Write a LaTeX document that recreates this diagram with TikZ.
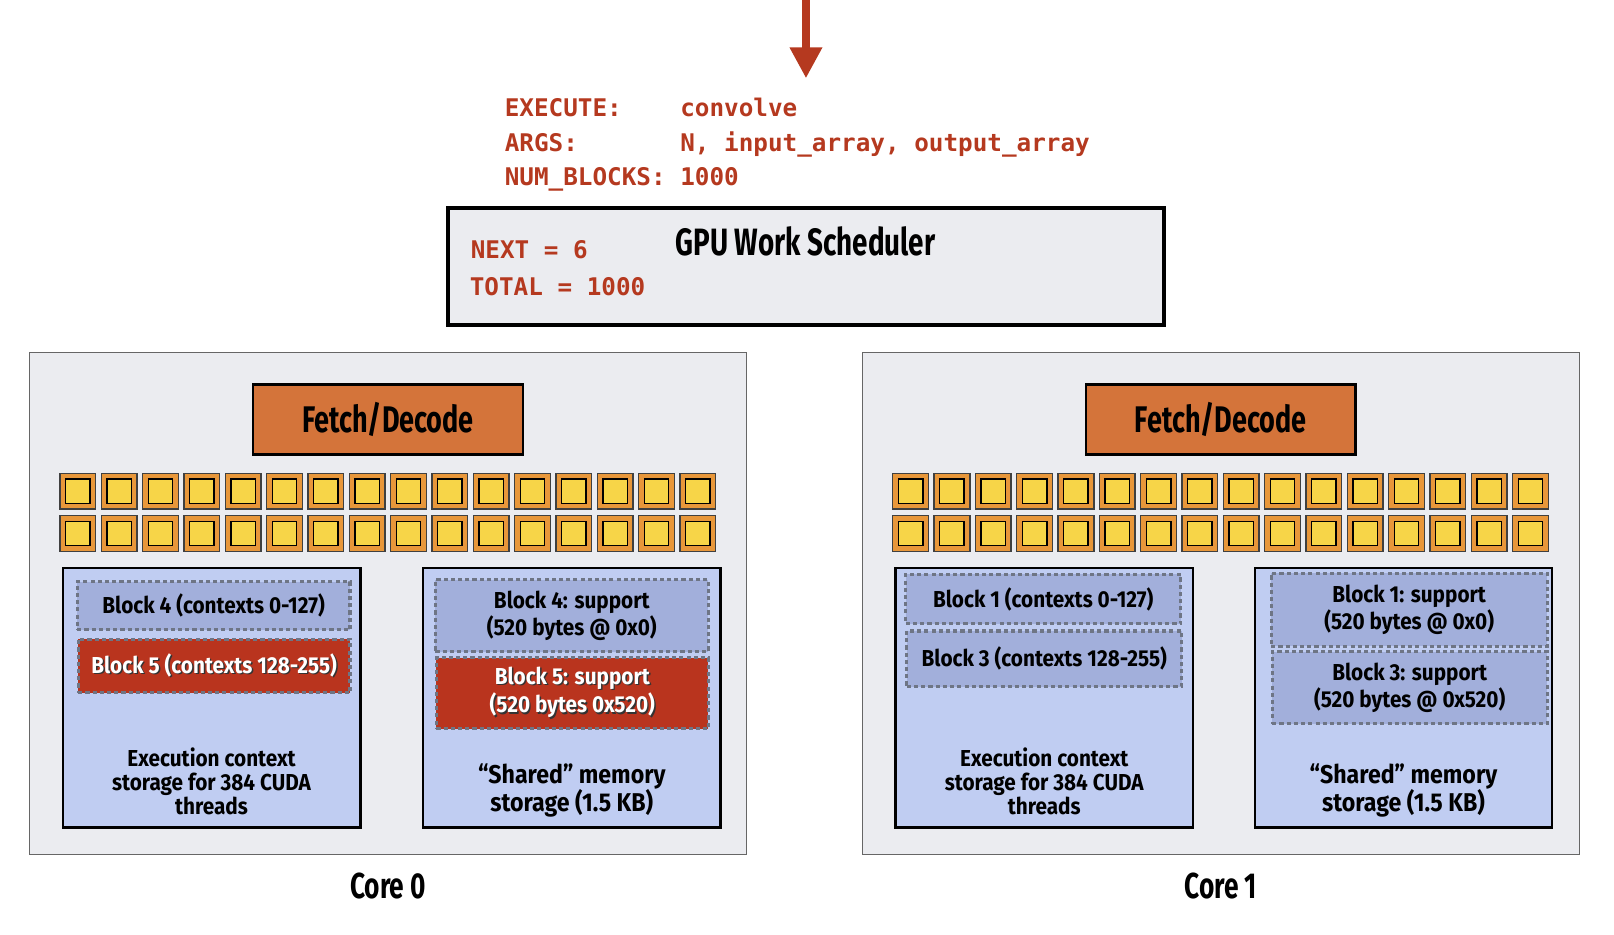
\documentclass[tikz,border=0pt]{standalone}
\usepackage{fontspec}
\usetikzlibrary{arrows.meta}
\setmainfont{Fira Sans}
\setmonofont{DejaVu Sans Mono}
\newfontfamily\titlefont[FakeStretch=0.73]{Fira Sans}
\newfontfamily\labelfont[FakeStretch=0.9]{Fira Sans}

\definecolor{coregray}{RGB}{235,236,240}
\definecolor{fetchorange}{RGB}{212,116,58}
\definecolor{aluorange}{RGB}{232,151,58}
\definecolor{aluyellow}{RGB}{247,213,72}
\definecolor{storeblue}{RGB}{192,205,242}
\definecolor{blockblue}{RGB}{162,175,219}
\definecolor{blockred}{RGB}{185,52,30}
\definecolor{dashgray}{RGB}{110,117,133}
\definecolor{codered}{RGB}{181,57,31}

\newcommand{\shadowline}[1]{\makebox[0pt][l]{\hspace{0.7pt}\raisebox{-0.7pt}{\color{black!80}#1}}#1}

\tikzset{
  code/.style={font=\ttfamily\bfseries\fontsize{11.8}{16}\selectfont,text=codered,inner sep=0},
  title/.style={font=\titlefont\bfseries\fontsize{18.5}{22}\selectfont,inner sep=0},
  corename/.style={font=\titlefont\bfseries\fontsize{17.5}{20}\selectfont,inner sep=0},
  label/.style={font=\labelfont\bfseries\fontsize{11.2}{11.5}\selectfont,align=center,inner sep=0},
  biglabel/.style={font=\labelfont\bfseries\fontsize{12.5}{13.7}\selectfont,align=center,inner sep=0},
  core/.style={draw=black!60,line width=0.5pt,fill=coregray},
  sched/.style={draw=black,line width=1.8pt,fill=coregray},
  fetch/.style={title,font=\titlefont\bfseries\fontsize{18}{22}\selectfont,draw=black,line width=1.2pt,fill=fetchorange,minimum width=131pt,minimum height=34pt},
  alu/.style={draw=black!75,line width=0.7pt,fill=aluorange},
  aluin/.style={draw=black,line width=0.7pt,fill=aluyellow},
  store/.style={draw=black,line width=1.2pt,fill=storeblue},
  blockbox/.style={label,draw=dashgray,line width=1.5pt,dash pattern=on 2pt off 1.5pt,fill=blockblue},
  hotbox/.style={blockbox,fill=blockred,text=white}
}

\begin{document}
\begin{tikzpicture}[x=0.5pt,y=-0.5pt]
\useasboundingbox (0,0) rectangle (1568,907.4);
% incoming launch command
\coordinate (launch) at (783,0);
\coordinate (cmd) at (783,76);
\draw[codered,line width=3.5pt,-{Triangle[width=15pt,length=15pt]}] (launch) -- (cmd);
\node[code,anchor=base west] (exec) at (490,113.6) {EXECUTE:~~~~convolve};
\node[code,anchor=base west] (args) at (490,147) {ARGS:~~~~~~~N,~input\_array,~output\_array};
\node[code,anchor=base west] (nblk) at (490,180.5) {NUM\_BLOCKS:~1000};
% work scheduler
\draw[sched] (435,202.4) rectangle (1131,315.7);
\node[code,anchor=base west] (next) at (457,251.4) {NEXT~=~6};
\node[code,anchor=base west] (total) at (456,286.9) {TOTAL~=~1000};
\node[title,anchor=base] (sched) at (782.4,248.4) {GPU Work Scheduler};
% cores
\draw[core] (29,342) rectangle (725,830.6);
\draw[core] (838,342) rectangle (1534,830.6);
\node[fetch] (fetch0) at (377,407.4) {Fetch/Decode};
\node[fetch] (fetch1) at (1186,407.4) {Fetch/Decode};
\foreach \c in {0,809} {
  \foreach \r in {459.8,501} {
    \foreach \i in {0,...,15} {
      \pgfmathsetmacro{\x}{\c+58.3+40.15*\i}
      \draw[alu] (\x,\r) rectangle ++(34.7,34.7);
      \draw[aluin] (\x+5.5,\r+5.5) rectangle ++(23.7,23.7);
    }
  }
}
% core 0 storage
\draw[store] (61,552) rectangle (350,804);
\draw[store] (411,552) rectangle (700,804);
\node[blockbox,minimum width=132.5pt,minimum height=23.5pt] (ctx4) at (207.5,588.5) {Block 4 (contexts 0-127)};
\node[hotbox,minimum width=132pt,minimum height=26pt] (ctx5) at (208,647) {\shadowline{Block 5 (contexts 128-255)}};
\node[blockbox,minimum width=132.5pt,minimum height=35pt] (sh4) at (555.5,598) {Block 4: support\\(520 bytes @ 0x0)};
\node[hotbox,minimum width=132pt,minimum height=34.5pt] (sh5) at (556,673.5) {\shadowline{Block 5: support}\\\shadowline{(520 bytes 0x520)}};
\node[label] (ctxtxt0) at (205.5,759) {Execution context\\storage for 384 CUDA\\threads};
\node[biglabel] (shtxt0) at (555.5,768) {“Shared” memory\\storage (1.5 KB)};
% core 1 storage
\draw[store] (870,552) rectangle (1159,804);
\draw[store] (1219,552) rectangle (1508,804);
\node[blockbox,minimum width=133.5pt,minimum height=24pt] (ctx1) at (1013.5,582) {Block 1 (contexts 0-127)};
\node[blockbox,minimum width=133.5pt,minimum height=27pt] (ctx3) at (1014.5,640) {Block 3 (contexts 128-255)};
\node[blockbox,minimum width=134pt,minimum height=35.5pt] (sh1) at (1369,592.5) {Block 1: support\\(520 bytes @ 0x0)};
\node[blockbox,minimum width=133.5pt,minimum height=35pt] (sh3) at (1369.5,668) {Block 3: support\\(520 bytes @ 0x520)};
\node[label] (ctxtxt1) at (1014.5,759) {Execution context\\storage for 384 CUDA\\threads};
\node[biglabel] (shtxt1) at (1363.5,768) {“Shared” memory\\storage (1.5 KB)};
% core names
\node[corename,anchor=base] (core0) at (377,872.8) {Core 0};
\node[corename,anchor=base] (core1) at (1186,872.8) {Core 1};
\end{tikzpicture}
\end{document}
